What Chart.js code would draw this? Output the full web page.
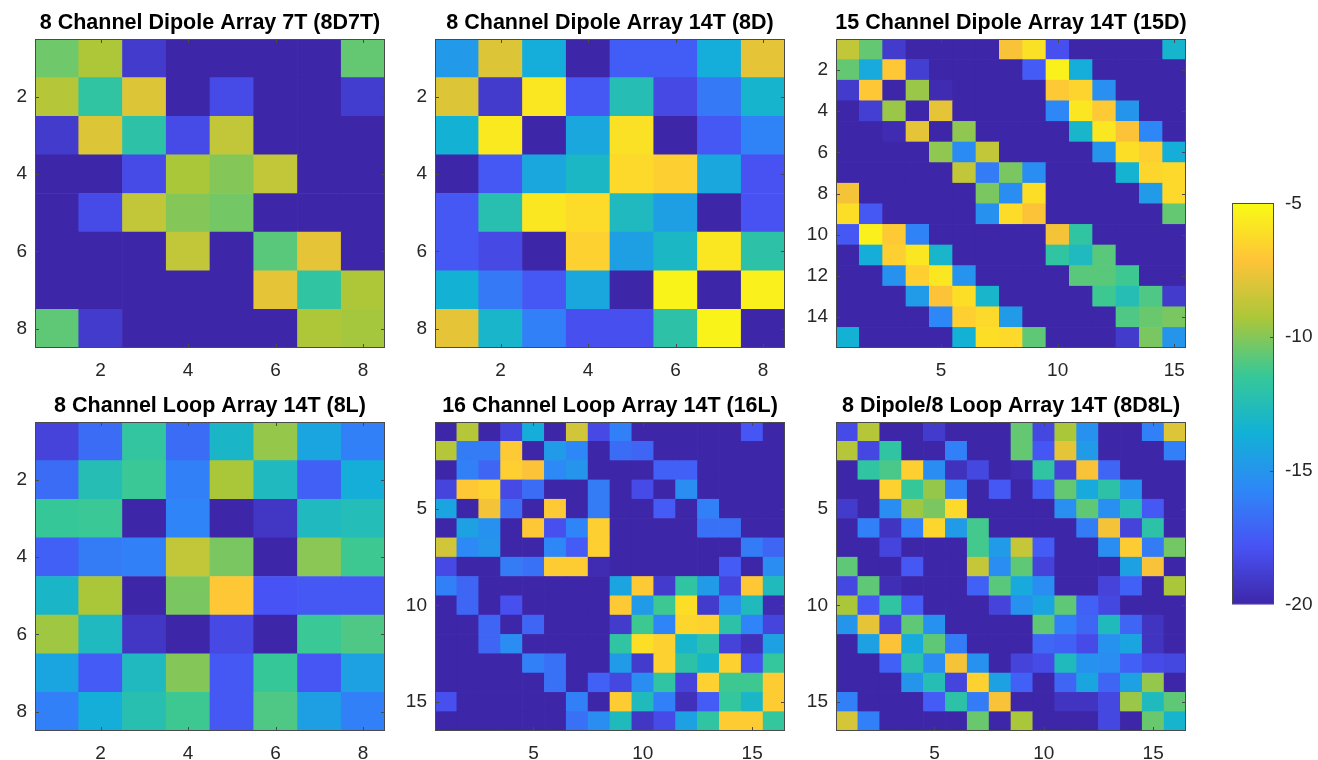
<!DOCTYPE html>
<html><head><meta charset="utf-8">
<script src="https://cdn.jsdelivr.net/npm/chart.js@4"></script>
<style>
html,body{margin:0;padding:0;background:#fff;width:1318px;height:760px;overflow:hidden;position:relative}
canvas{position:absolute}
</style></head><body>
<script>
// ---------- data ----------
const titles = [
  '8 Channel Dipole Array 7T (8D7T)',
  '8 Channel Dipole Array 14T (8D)',
  '15 Channel Dipole Array 14T (15D)',
  '8 Channel Loop Array 14T (8L)',
  '16 Channel Loop Array 14T (16L)',
  '8 Dipole/8 Loop Array 14T (8D8L)'
];
const ticks8 = [2, 4, 6, 8];
const ticks15y = [2, 4, 6, 8, 10, 12, 14];
const ticks5 = [5, 10, 15];
const cbarTicks = [-20, -15, -10, -5];
const cMin = -20, cMax = -5;

const m8D7T = [
  [-10.4, -9.2, -19.0, -20, -20, -20, -20, -10.6],
  [-9.0, -11.8, -8.0, -20, -18.2, -20, -20, -18.9],
  [-19.0, -8.0, -12.0, -18.2, -8.7, -20, -20, -20],
  [-20, -20, -18.2, -9.3, -10.0, -8.7, -20, -20],
  [-20, -18.2, -8.7, -10.0, -10.3, -20, -20, -20],
  [-20, -20, -20, -8.7, -20, -10.8, -7.8, -20],
  [-20, -20, -20, -20, -20, -7.8, -11.8, -9.2],
  [-10.7, -19.0, -20, -20, -20, -20, -9.2, -9.4]
];
const m8D = [
  [-14.8, -8.0, -13.8, -20, -17.4, -17.4, -13.8, -7.8],
  [-8.0, -19.0, -5.8, -17.6, -12.4, -18.3, -16.3, -13.3],
  [-13.5, -5.7, -20, -14.1, -6.0, -20, -17.6, -15.9],
  [-20, -17.6, -14.1, -13.0, -6.3, -6.7, -14.1, -17.9],
  [-17.6, -12.3, -5.8, -6.2, -12.8, -14.5, -20, -17.9],
  [-17.6, -18.3, -20, -6.6, -14.5, -13.0, -5.8, -12.0],
  [-13.5, -16.3, -17.6, -14.1, -20, -5.3, -20, -5.4],
  [-7.8, -13.2, -16.0, -18.0, -18.0, -12.0, -5.3, -20]
];
const m15D = [
  [-8.7, -10.6, -19.0, -20, -20, -20, -20, -7.3, -6.0, -18.0, -20, -20, -20, -20, -13.3],
  [-10.6, -14.0, -7.0, -18.8, -20, -20, -20, -20, -17.5, -5.4, -13.8, -20, -20, -20, -20],
  [-19.0, -7.0, -20, -9.6, -19.7, -20, -20, -20, -20, -6.9, -6.5, -15.3, -20, -20, -20],
  [-20, -18.8, -9.6, -20, -7.8, -20, -20, -20, -20, -15.7, -5.8, -6.9, -15.0, -20, -20],
  [-20, -20, -19.7, -7.8, -20, -9.8, -20, -20, -20, -20, -13.2, -5.8, -7.2, -15.7, -20],
  [-20, -20, -20, -20, -9.8, -15.5, -8.7, -20, -20, -20, -20, -15.0, -6.1, -6.7, -13.7],
  [-20, -20, -20, -20, -20, -8.7, -16.2, -10.2, -15.4, -20, -20, -20, -13.4, -6.4, -6.3],
  [-7.4, -20, -20, -20, -20, -20, -10.2, -15.4, -6.1, -20, -20, -20, -20, -14.7, -6.3],
  [-6.1, -17.6, -20, -20, -20, -20, -15.2, -6.2, -7.2, -20, -20, -20, -20, -20, -10.6],
  [-17.6, -5.4, -6.9, -15.9, -20, -20, -20, -20, -20, -7.4, -11.8, -20, -20, -20, -20],
  [-20, -13.7, -6.7, -5.8, -13.2, -20, -20, -20, -20, -11.8, -12.8, -10.8, -20, -20, -20],
  [-20, -20, -15.2, -6.7, -5.8, -15.1, -20, -20, -20, -20, -10.8, -10.8, -11.3, -20, -20],
  [-20, -20, -20, -14.7, -7.2, -6.1, -13.2, -20, -20, -20, -20, -11.3, -12.4, -11.0, -19.0],
  [-20, -20, -20, -20, -15.7, -6.7, -6.3, -14.7, -20, -20, -20, -20, -11.0, -10.5, -10.2],
  [-13.5, -20, -20, -20, -20, -13.5, -6.1, -6.3, -10.7, -20, -20, -20, -19.0, -10.2, -15.0]
];
const m8L = [
  [-18.6, -16.8, -11.7, -16.8, -13.1, -9.7, -14.2, -16.0],
  [-16.8, -12.4, -11.4, -16.0, -9.3, -12.8, -17.3, -13.7],
  [-11.5, -11.4, -20, -15.8, -20, -19.2, -12.8, -12.5],
  [-17.3, -16.2, -16.0, -8.7, -10.2, -20, -9.9, -11.3],
  [-13.1, -9.3, -20, -10.2, -7.0, -17.8, -17.6, -17.6],
  [-9.5, -12.8, -19.2, -20, -18.3, -20, -11.4, -11.0],
  [-14.2, -17.5, -12.8, -10.0, -17.6, -11.5, -17.7, -14.4],
  [-16.0, -13.7, -12.3, -11.3, -17.6, -11.0, -14.5, -16.0]
];
const m16L = [
  [-20, -9.0, -20, -18.5, -13.8, -20, -8.3, -18.3, -16.0, -20, -20, -20, -20, -20, -17.7, -20],
  [-9.0, -16.2, -16.2, -6.9, -20, -14.7, -15.7, -20, -16.8, -17.1, -20, -20, -20, -20, -20, -20],
  [-20, -16.0, -17.1, -6.7, -7.2, -15.6, -15.0, -20, -20, -20, -17.3, -17.3, -20, -20, -20, -20],
  [-18.5, -7.0, -6.6, -18.3, -16.8, -20, -20, -16.2, -20, -18.2, -20, -15.4, -20, -20, -20, -20],
  [-14.2, -20, -7.4, -16.8, -20, -6.9, -20, -16.2, -20, -20, -17.5, -20, -16.0, -20, -20, -20],
  [-20, -14.4, -15.2, -20, -7.0, -18.0, -15.8, -6.7, -20, -20, -20, -20, -16.6, -16.6, -20, -20],
  [-8.3, -15.6, -15.0, -20, -20, -15.7, -17.5, -6.7, -20, -20, -20, -20, -20, -20, -16.2, -17.1],
  [-18.3, -20, -20, -16.2, -16.6, -6.8, -6.8, -19.7, -20, -20, -20, -20, -20, -17.5, -20, -15.4],
  [-16.0, -17.1, -20, -20, -20, -20, -20, -20, -14.2, -6.9, -19.0, -11.8, -14.7, -18.5, -7.0, -12.7],
  [-20, -17.1, -20, -18.0, -20, -20, -20, -20, -6.9, -14.7, -11.3, -6.1, -19.0, -15.4, -12.7, -19.7],
  [-20, -20, -17.1, -20, -17.1, -20, -20, -20, -19.0, -11.3, -15.8, -6.4, -6.6, -12.0, -15.8, -18.5],
  [-20, -20, -17.1, -15.4, -20, -20, -20, -20, -11.8, -6.1, -6.6, -13.2, -12.1, -18.6, -19.5, -14.4],
  [-20, -20, -20, -20, -16.0, -16.6, -20, -20, -14.7, -19.0, -6.6, -12.0, -13.3, -6.6, -18.0, -11.6],
  [-20, -20, -20, -20, -20, -16.6, -20, -17.3, -18.4, -15.4, -11.8, -18.6, -6.6, -11.3, -11.3, -6.8],
  [-18.0, -20, -20, -20, -20, -20, -16.0, -20, -6.8, -12.7, -16.0, -19.5, -17.5, -11.6, -13.1, -6.8],
  [-20, -20, -20, -20, -20, -20, -16.6, -15.4, -12.7, -19.2, -18.2, -14.4, -11.8, -6.8, -6.8, -11.6]
];
const m8D8L = [
  [-18.2, -9.0, -20, -20, -19.0, -20, -20, -20, -10.6, -18.4, -9.3, -15.2, -20, -20, -16.0, -8.0],
  [-9.0, -18.4, -11.8, -20, -20, -16.0, -20, -20, -10.6, -17.7, -7.8, -14.7, -20, -20, -20, -16.0],
  [-20, -11.8, -11.1, -6.7, -15.4, -19.4, -18.4, -20, -19.7, -11.8, -18.6, -7.3, -17.1, -20, -20, -20],
  [-20, -20, -6.6, -11.5, -9.7, -16.0, -20, -17.6, -20, -17.3, -10.6, -14.0, -12.0, -15.2, -20, -20],
  [-19.0, -20, -15.4, -9.5, -10.2, -6.3, -20, -20, -20, -20, -15.3, -10.7, -15.3, -12.4, -17.6, -20],
  [-20, -16.0, -19.3, -16.0, -6.4, -14.7, -11.2, -20, -20, -20, -20, -16.2, -7.4, -18.6, -12.0, -20],
  [-20, -20, -18.5, -20, -20, -20, -11.2, -14.7, -8.6, -17.5, -20, -20, -15.4, -6.8, -16.2, -10.3],
  [-10.7, -20, -20, -17.6, -20, -20, -8.6, -15.4, -10.7, -18.6, -20, -20, -20, -14.4, -7.3, -20],
  [-18.4, -10.7, -19.6, -20, -20, -20, -17.3, -10.8, -14.0, -15.4, -20, -20, -18.6, -17.3, -20, -9.3],
  [-9.3, -17.6, -11.8, -17.5, -20, -20, -20, -18.6, -15.2, -14.2, -10.7, -17.3, -18.4, -20, -20, -20],
  [-15.0, -7.8, -18.5, -10.7, -15.2, -20, -20, -20, -20, -10.7, -16.0, -17.1, -12.7, -17.1, -19.3, -20],
  [-20, -14.4, -7.2, -14.0, -10.7, -16.2, -20, -20, -20, -17.0, -17.3, -18.2, -15.2, -14.2, -19.3, -20],
  [-20, -20, -17.3, -12.0, -15.4, -7.4, -15.2, -20, -18.6, -18.2, -12.7, -15.2, -15.4, -17.3, -18.2, -18.4],
  [-20, -20, -20, -15.0, -12.4, -18.5, -6.6, -14.4, -17.3, -20, -17.1, -14.2, -17.1, -14.4, -9.7, -20],
  [-16.0, -20, -20, -20, -17.5, -12.0, -16.2, -7.3, -20, -20, -19.3, -19.3, -18.4, -9.6, -12.7, -10.7],
  [-8.2, -16.0, -20, -20, -20, -20, -10.5, -20, -9.3, -20, -20, -20, -18.4, -20, -10.5, -13.3]
];

// ---------- style / layout ----------
const FONT = '"Liberation Sans", Arial, Helvetica, sans-serif';
const TICK_COLOR = '#262626';
const PARULA = [
  [62, 38, 168], [72, 82, 244], [46, 135, 247], [18, 177, 214],
  [55, 200, 151], [171, 199, 57], [254, 195, 56], [249, 251, 21]
];
function parula(v) {
  let t = (v - cMin) / (cMax - cMin);
  t = Math.max(0, Math.min(1, t));
  const f = t * (PARULA.length - 1);
  const k = Math.min(PARULA.length - 2, Math.floor(f));
  const u = f - k;
  const a = PARULA[k], b = PARULA[k + 1];
  const c = a.map((x, i) => Math.round(x + (b[i] - x) * u));
  return `rgb(${c[0]},${c[1]},${c[2]})`;
}

const SIDE = 40, TITLE_H = 39, XAXIS_H = 36;
const panels = [
  { title: titles[0], m: m8D7T, xt: ticks8, yt: ticks8, x: 35, y: 39 },
  { title: titles[1], m: m8D, xt: ticks8, yt: ticks8, x: 435, y: 39 },
  { title: titles[2], m: m15D, xt: ticks5, yt: ticks15y, x: 836, y: 39 },
  { title: titles[3], m: m8L, xt: ticks8, yt: ticks8, x: 35, y: 422 },
  { title: titles[4], m: m16L, xt: ticks5, yt: ticks5, x: 435, y: 422 },
  { title: titles[5], m: m8D8L, xt: ticks5, yt: ticks5, x: 836, y: 422 }
];
const PW = 350, PH = 309;

const boxPlugin = {
  id: 'matBox',
  afterDatasetsDraw(chart, args, opts) {
    const { ctx, chartArea: a, scales } = chart;
    const L = 4;
    ctx.save();
    ctx.strokeStyle = opts.color || '#4a4a4a';
    ctx.lineWidth = 1;
    ctx.beginPath();
    if (opts.xTicks !== false && scales.x && scales.x.options.display) {
      for (const t of scales.x.ticks) {
        const px = Math.round(scales.x.getPixelForValue(t.value)) + 0.5;
        ctx.moveTo(px, a.bottom); ctx.lineTo(px, a.bottom - L);
        ctx.moveTo(px, a.top); ctx.lineTo(px, a.top + L);
      }
    }
    if (scales.y) {
      for (const t of scales.y.ticks) {
        if (t.value === scales.y.min || t.value === scales.y.max) continue;
        const py = Math.round(scales.y.getPixelForValue(t.value)) + 0.5;
        if (opts.leftTicks !== false) { ctx.moveTo(a.left, py); ctx.lineTo(a.left + L, py); }
        ctx.moveTo(a.right, py); ctx.lineTo(a.right - L, py);
      }
    }
    ctx.stroke();
    ctx.strokeRect(Math.round(a.left) + 0.5, Math.round(a.top) + 0.5,
      Math.round(a.right - a.left) - 1, Math.round(a.bottom - a.top) - 1);
    ctx.restore();
  }
};

function makeCanvas(left, top, w, h) {
  const c = document.createElement('canvas');
  c.width = w; c.height = h;
  c.style.left = left + 'px'; c.style.top = top + 'px';
  c.style.width = w + 'px'; c.style.height = h + 'px';
  document.body.appendChild(c);
  return c;
}

function makePanel(p) {
  const n = p.m.length;
  const W = PW + 2 * SIDE, H = TITLE_H + PH + XAXIS_H;
  const cvs = makeCanvas(p.x - SIDE, p.y - TITLE_H, W, H);
  const data = [], colors = [];
  p.m.forEach((row, i) => row.forEach((v, j) => {
    data.push({ x: j + 1, y: [i + 0.5, i + 1.5] });
    colors.push(parula(v));
  }));
  const tickFont = { family: FONT, size: 19 };
  new Chart(cvs, {
    type: 'bar',
    data: { datasets: [{ data, backgroundColor: colors, borderWidth: 0, grouped: false,
      barPercentage: 1, categoryPercentage: 1 }] },
    options: {
      responsive: false, animation: false, events: [],
      layout: { padding: 0 },
      plugins: {
        legend: { display: false }, tooltip: { enabled: false },
        title: { display: true, text: p.title, color: '#000',
          font: { family: FONT, size: 21.5, weight: 'bold', lineHeight: 1.2 },
          padding: { top: 10, bottom: 3.2 } },
        matBox: {}
      },
      scales: {
        x: { type: 'linear', offset: false, min: 0.5, max: n + 0.5,
          grid: { display: false, drawTicks: false, offset: false }, border: { display: false },
          afterBuildTicks: s => { s.ticks = p.xt.map(v => ({ value: v })); },
          afterFit: s => { s.height = XAXIS_H; },
          ticks: { autoSkip: false, maxRotation: 0, padding: 11, color: TICK_COLOR, font: tickFont } },
        y: { type: 'linear', reverse: true, min: 0.5, max: n + 0.5,
          grid: { display: false, drawTicks: false }, border: { display: false },
          afterBuildTicks: s => { s.ticks = p.yt.map(v => ({ value: v })); },
          afterFit: s => { s.width = SIDE; },
          ticks: { autoSkip: false, padding: 8, color: TICK_COLOR, font: tickFont } },
        yR: { type: 'linear', position: 'right', display: true, min: 0, max: 1,
          grid: { display: false, drawTicks: false }, border: { display: false },
          ticks: { display: false },
          afterFit: s => { s.width = SIDE; } }
      }
    },
    plugins: [boxPlugin]
  });
}
panels.forEach(makePanel);

// ---------- colorbar ----------
(function () {
  const cvs = makeCanvas(1222, 181, 96, 446);
  new Chart(cvs, {
    type: 'bar',
    data: { labels: [''], datasets: [{ data: [[cMin, cMax]], borderWidth: 0, barPercentage: 1, categoryPercentage: 1,
      backgroundColor: (c) => {
        const { ctx, chartArea } = c.chart;
        if (!chartArea) return parula(cMin);
        const g = ctx.createLinearGradient(0, chartArea.bottom, 0, chartArea.top);
        PARULA.forEach((col, k) => g.addColorStop(k / (PARULA.length - 1), `rgb(${col.join(',')})`));
        return g;
      } }] },
    options: {
      responsive: false, animation: false, events: [],
      layout: { padding: { left: 10, top: 0, bottom: 0, right: 0 } },
      plugins: { legend: { display: false }, tooltip: { enabled: false }, matBox: { xTicks: false, leftTicks: false } },
      scales: {
        x: { display: false },
        y: { position: 'right', min: cMin, max: cMax, grid: { display: false, drawTicks: false }, border: { display: false },
          afterBuildTicks: s => { s.ticks = cbarTicks.map(v => ({ value: v })); },
          afterFit: s => { s.width = 44; },
          ticks: { autoSkip: false, padding: 11, color: TICK_COLOR, font: { family: FONT, size: 19 } } }
      }
    },
    plugins: [boxPlugin]
  });
})();
</script>
</body></html>
